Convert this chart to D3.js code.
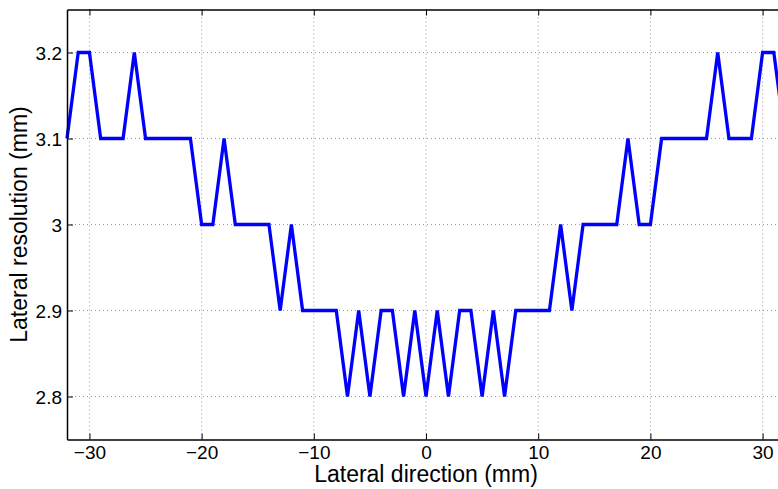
<!DOCTYPE html>
<html><head><meta charset="utf-8">
<script src="https://cdn.jsdelivr.net/npm/d3@7"></script>
<style>
body{margin:0;background:#fff;}
svg{display:block;font-family:"Liberation Sans",Arial,sans-serif;}
</style></head>
<body>
<svg id="c" width="778" height="489"></svg>
<script>
const positions = [-32,-31,-30,-29,-28,-27,-26,-25,-24,-23,-22,-21,-20,-19,-18,-17,-16,-15,-14,-13,-12,-11,-10,-9,-8,-7,-6,-5,-4,-3,-2,-1,0,1,2,3,4,5,6,7,8,9,10,11,12,13,14,15,16,17,18,19,20,21,22,23,24,25,26,27,28,29,30,31,32];
const resolution = [3.1,3.2,3.2,3.1,3.1,3.1,3.2,3.1,3.1,3.1,3.1,3.1,3.0,3.0,3.1,3.0,3.0,3.0,3.0,2.9,3.0,2.9,2.9,2.9,2.9,2.8,2.9,2.8,2.9,2.9,2.8,2.9,2.8,2.9,2.8,2.9,2.9,2.8,2.9,2.8,2.9,2.9,2.9,2.9,3.0,2.9,3.0,3.0,3.0,3.0,3.1,3.0,3.0,3.1,3.1,3.1,3.1,3.1,3.2,3.1,3.1,3.1,3.2,3.2,3.1];
const xTicks = [-30,-20,-10,0,10,20,30];
const yTicks = [2.8,2.9,3.0,3.1,3.2];
const xLabel = "Lateral direction (mm)";
const yLabel = "Lateral resolution (mm)";

const svg = d3.select("#c");
const L = 67, T = 9.5, B = 439.5;
const x = d3.scaleLinear().domain([-32,32]).range([L, 426 + 32*11.22]);
const y = d3.scaleLinear().domain([2.75,3.25]).range([B, T]);
const fmtX = d => d < 0 ? "\u2212" + Math.abs(d) : String(d);
const fmtY = d => String(+d.toFixed(1));

// grid
const g = svg.append("g");
g.selectAll(".gx").data(xTicks).join("line")
  .attr("x1", d => x(d)).attr("x2", d => x(d)).attr("y1", T).attr("y2", B)
  .attr("stroke", "#999").attr("stroke-width", 1).attr("stroke-dasharray", "1,3");
g.selectAll(".gy").data(yTicks).join("line")
  .attr("x1", L).attr("x2", x(32)).attr("y1", d => y(d)).attr("y2", d => y(d))
  .attr("stroke", "#999").attr("stroke-width", 1).attr("stroke-dasharray", "1,3");

// line
svg.append("path").datum(positions.map((p,i)=>[p,resolution[i]]))
  .attr("fill","none").attr("stroke","#0000ff").attr("stroke-width",3.3)
  .attr("stroke-linejoin","miter")
  .attr("d", d3.line().x(d=>x(d[0])).y(d=>y(d[1])));

// axes
const xb = svg.append("g").attr("transform",`translate(0,${B})`)
  .call(d3.axisBottom(x).tickValues(xTicks).tickFormat(fmtX).tickSizeInner(-6).tickSizeOuter(0).tickPadding(6));
const xt = svg.append("g").attr("transform",`translate(0,${T})`)
  .call(d3.axisTop(x).tickValues(xTicks).tickFormat("").tickSizeInner(-6).tickSizeOuter(0));
const yl = svg.append("g").attr("transform",`translate(${L},0)`)
  .call(d3.axisLeft(y).tickValues(yTicks).tickFormat(fmtY).tickSizeInner(-6).tickSizeOuter(0).tickPadding(5));
[xb,xt,yl].forEach(a=>{
  a.select(".domain").attr("stroke","#000").attr("stroke-width",1.5);
  a.selectAll(".tick line").attr("stroke","#000").attr("stroke-width",1);
  a.selectAll("text").attr("font-size",19).attr("fill","#000").attr("font-family","'Liberation Sans',Arial,sans-serif");
});
xb.selectAll("text").attr("dy","0.71em");
yl.selectAll("text").attr("dy","0.35em");

svg.append("text").attr("x",426).attr("y",482).attr("text-anchor","middle")
  .attr("font-size",23).attr("fill","#000").text(xLabel);
svg.append("text").attr("transform",`translate(27,${(T+B)/2}) rotate(-90)`).attr("text-anchor","middle")
  .attr("font-size",23).attr("fill","#000").text(yLabel);
</script>
</body></html>
